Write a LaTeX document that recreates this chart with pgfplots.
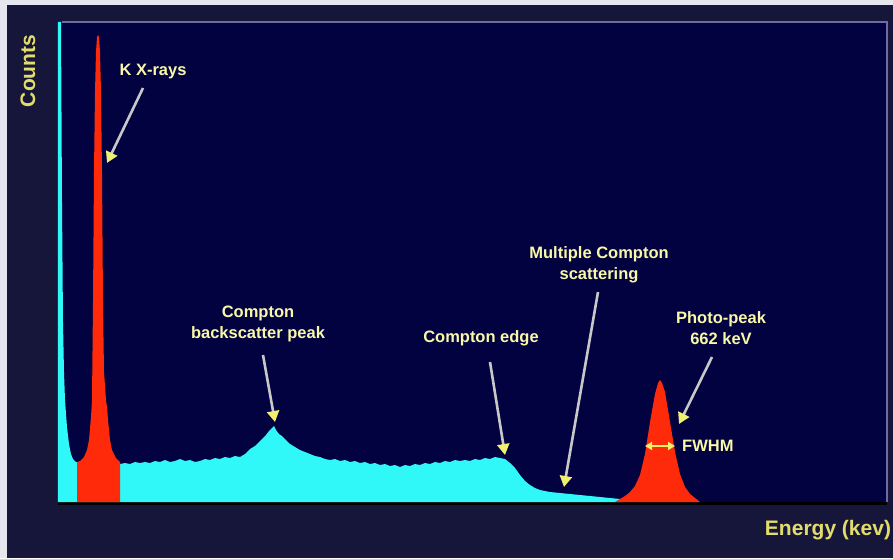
\documentclass[border=0pt]{standalone}
\usepackage{pgfplots}
\pgfplotsset{compat=1.18}
\usepackage{fontspec}
\setmainfont{Liberation Sans}
\usetikzlibrary{arrows.meta}

\definecolor{outerbg}{HTML}{16163A}
\definecolor{plotbg}{HTML}{020240}
\definecolor{edgestrip}{HTML}{E6E6EE}
\definecolor{spec}{HTML}{30F8F8}
\definecolor{peakred}{HTML}{FF2A0A}
\definecolor{frameline}{HTML}{6C6CA4}
\definecolor{baseline}{HTML}{8C8CC4}
\definecolor{shaft}{HTML}{C8C8C8}
\definecolor{head}{HTML}{F0F070}
\definecolor{annot}{HTML}{F8F8A8}
\definecolor{axlab}{HTML}{E2DC6A}

\tikzset{
  callout/.style={shaft, line width=2.6pt, -{Triangle[length=11pt,width=12pt,color=head]}},
  tag/.style={text=annot, font=\fontsize{16.5}{21}\selectfont\bfseries, align=center, inner sep=0pt},
}

\begin{document}
\begin{tikzpicture}[x=1pt,y=1pt]
% slide background, frame and plot area
\fill[outerbg] (-58,-56) rectangle (835,502);
\fill[edgestrip] (-58,497) rectangle (835,502);
\fill[edgestrip] (-58,-56) rectangle (-51,502);
\fill[plotbg] (0,0) rectangle (829,480);
\draw[frameline, line width=2.5pt] (4,480) -- (829,480) -- (829,0);
\draw[baseline, line width=3pt] (0,-1) -- (829,-1);

\begin{axis}[
  at={(0,0)}, anchor=south west,
  scale only axis, width=829pt, height=480pt,
  xmin=0, xmax=829, ymin=0, ymax=480,
  axis line style={draw=none}, ticks=none, clip=false,
]
% continuum: left edge, backscatter peak, Compton edge and tail
\addplot[fill=spec, draw=none] coordinates {
 (0,480) (3,480) (4,300) (5,180) (6,130) (7,102) (9,75) (11,58) (13,48)
 (15,43) (18,40) (62,38) (67,39) (72,38) (77,40) (82,39) (87,40) (92,39)
 (97,41) (102,40) (107,42) (112,40) (117,41) (122,43) (127,41) (132,42)
 (137,40) (142,41) (147,43) (152,42) (157,44) (162,43) (167,45) (172,44)
 (177,46) (182,45) (187,48) (192,53) (197,56) (200,59) (204,63) (208,67)
 (211,71) (214,74) (216,76) (218,72) (221,68) (224,66) (228,62) (232,58)
 (237,55) (242,52) (247,50) (252,48) (257,46) (262,45) (267,43) (272,42)
 (277,43) (282,41) (287,42) (292,40) (297,41) (302,39) (307,40) (312,38)
 (317,39) (322,37) (327,38) (332,36) (337,37) (342,35) (347,37) (352,36)
 (357,38) (362,37) (367,39) (372,38) (377,40) (382,39) (387,41) (392,40)
 (397,42) (402,41) (407,42) (412,41) (417,43) (422,42) (427,44) (432,43)
 (437,45) (442,44) (447,43) (452,39) (457,34) (462,27) (467,21) (472,17)
 (477,14) (482,12) (492,10) (502,9) (512,8) (522,7) (532,6) (542,5)
 (552,4) (562,3) (564,0)
} \closedcycle;

% K X-ray peak
\addplot[fill=peakred, draw=none] coordinates {
 (19,0) (19,40) (22,41) (26,45) (29,52) (31,62) (33,85) (34,102) (35,200)
 (36,330) (37,410) (38,450) (39,465) (40,467) (41,465) (42,450) (43,410)
 (44,330) (45,200) (46,130) (48,102) (49,95) (50,82) (52,62) (54,52)
 (58,44) (62,40) (62,0)
} \closedcycle;

% photo-peak
\addplot[fill=peakred, draw=none] coordinates {
 (557,0) (562,3) (567,6) (572,10) (577,16) (582,27) (587,48) (592,80)
 (597,108) (600,119) (602,122) (604,119) (607,110) (612,80) (617,50)
 (622,28) (627,15) (632,8) (637,4) (642,0)
} \closedcycle;

% callouts
\node[tag] at (axis cs:95,430) {K X-rays};
\draw[callout] (axis cs:85,414) -- (axis cs:49,339);

\node[tag] at (axis cs:200,178) {Compton\\backscatter peak};
\draw[callout] (axis cs:205,147) -- (axis cs:217,80);

\node[tag] at (axis cs:423,164) {Compton edge};
\draw[callout] (axis cs:432,140) -- (axis cs:447,47);

\node[tag] at (axis cs:541,237.5) {Multiple Compton\\scattering};
\draw[callout] (axis cs:540,210) -- (axis cs:506,15);

\node[tag] at (axis cs:663,173.5) {Photo-peak\\662 keV};
\draw[callout] (axis cs:654,145) -- (axis cs:621,78);

\draw[head, line width=2.4pt, {Triangle[length=7pt,width=8pt]}-{Triangle[length=7pt,width=8pt]}]
  (axis cs:587,56) -- (axis cs:617,56);
\node[tag, anchor=west] at (axis cs:624,56) {FWHM};

% axis titles
\node[text=axlab, font=\fontsize{21}{24}\selectfont\bfseries, rotate=90] at (axis cs:-30,431) {Counts};
\node[text=axlab, font=\fontsize{21}{24}\selectfont\bfseries] at (axis cs:770,-28) {Energy (kev)};
\end{axis}
\pgfresetboundingbox
\useasboundingbox (-58,-56) rectangle (835,502);
\end{tikzpicture}
\end{document}
